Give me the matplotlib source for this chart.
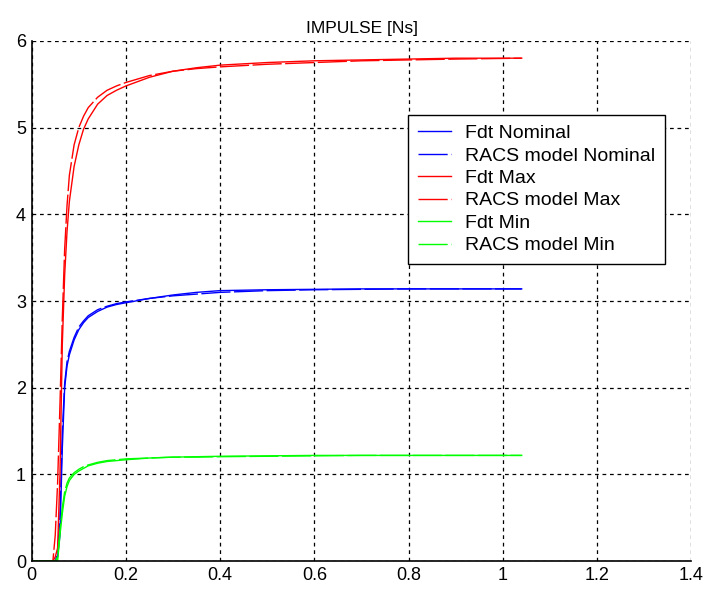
import matplotlib
matplotlib.use("Agg")
import matplotlib.pyplot as plt

plt.rcParams['font.family'] = ['Liberation Sans', 'DejaVu Sans']

# time axis [s]
t = [0, 0.045, 0.05, 0.055, 0.06, 0.065, 0.07, 0.075, 0.08, 0.09, 0.1, 0.11, 0.12,
     0.14, 0.16, 0.18, 0.2, 0.25, 0.3, 0.35, 0.4, 0.5, 0.6, 0.7, 0.8, 0.9, 1.04]

fdt_nominal = [0, 0, 0, 0.05, 0.3, 1.3, 2.0, 2.25, 2.38, 2.55, 2.67, 2.75, 2.81,
               2.88, 2.93, 2.96, 2.98, 3.03, 3.07, 3.1, 3.12, 3.13, 3.135, 3.14, 3.14, 3.14, 3.14]
racs_nominal = [0, 0, 0, 0.1, 0.5, 1.5, 2.05, 2.3, 2.42, 2.58, 2.7, 2.77, 2.83,
                2.9, 2.94, 2.97, 2.99, 3.03, 3.06, 3.08, 3.1, 3.12, 3.13, 3.135, 3.14, 3.14, 3.14]
fdt_max = [0, 0, 0.05, 0.15, 1.0, 2.5, 3.3, 3.8, 4.15, 4.55, 4.8, 4.98, 5.1,
           5.27, 5.37, 5.43, 5.48, 5.58, 5.65, 5.69, 5.72, 5.75, 5.77, 5.78, 5.79, 5.8, 5.8]
racs_max = [0, 0, 0.3, 0.9, 1.8, 2.8, 3.6, 4.1, 4.45, 4.8, 5.0, 5.13, 5.23,
            5.35, 5.43, 5.48, 5.52, 5.6, 5.65, 5.68, 5.7, 5.73, 5.75, 5.77, 5.78, 5.79, 5.8]
fdt_min = [0, 0, 0, 0, 0.3, 0.55, 0.75, 0.86, 0.93, 1.0, 1.04, 1.07, 1.1,
           1.13, 1.15, 1.16, 1.17, 1.19, 1.2, 1.205, 1.21, 1.215, 1.22, 1.22, 1.22, 1.22, 1.22]
racs_min = [0, 0, 0, 0.05, 0.35, 0.62, 0.8, 0.9, 0.96, 1.02, 1.06, 1.09, 1.11,
            1.14, 1.16, 1.17, 1.18, 1.19, 1.2, 1.2, 1.205, 1.21, 1.215, 1.22, 1.22, 1.22, 1.22]

fig = plt.figure(figsize=(7.04, 5.92), dpi=100)
ax = fig.add_axes([0.045, 0.052, 0.937, 0.879])

dash = (0, (21, 2.5))
ax.plot(t, fdt_nominal, color='#0000ff', lw=1, label='Fdt Nominal')
ax.plot(t, racs_nominal, color='#0000ff', lw=1, ls=dash, label='RACS model Nominal')
ax.plot(t, fdt_max, color='#ff0000', lw=1, label='Fdt Max')
ax.plot(t, racs_max, color='#ff0000', lw=1, ls=dash, label='RACS model Max')
ax.plot(t, fdt_min, color='#00ff00', lw=1, label='Fdt Min')
ax.plot(t, racs_min, color='#00ff00', lw=1, ls=dash, label='RACS model Min')

ax.set_xlim(0, 1.4)
ax.set_ylim(0, 6)
ax.set_xticks([0, 0.2, 0.4, 0.6, 0.8, 1, 1.2, 1.4])
ax.set_xticklabels(['0', '0.2', '0.4', '0.6', '0.8', '1', '1.2', '1.4'])
ax.set_yticks(range(7))
ax.grid(True, color='black', ls=(0, (3, 3)), lw=0.9)
for s in ['top', 'right']:
    ax.spines[s].set_visible(False)
for s in ['left', 'bottom']:
    ax.spines[s].set_linewidth(1.2)
ax.tick_params(direction='in', length=0, labelsize=13, pad=4)
ax.set_title('IMPULSE [Ns]', fontsize=12.5, pad=6)

leg = ax.legend(loc='upper left', bbox_to_anchor=(0.571, 0.858), fontsize=14,
                frameon=True, fancybox=False, edgecolor='black', framealpha=1,
                handlelength=1.7, handletextpad=0.72, labelspacing=0.25,
                borderpad=0.5, borderaxespad=0)
leg.get_frame().set_linewidth(1.0)

fig.savefig('out.png', dpi=100)
